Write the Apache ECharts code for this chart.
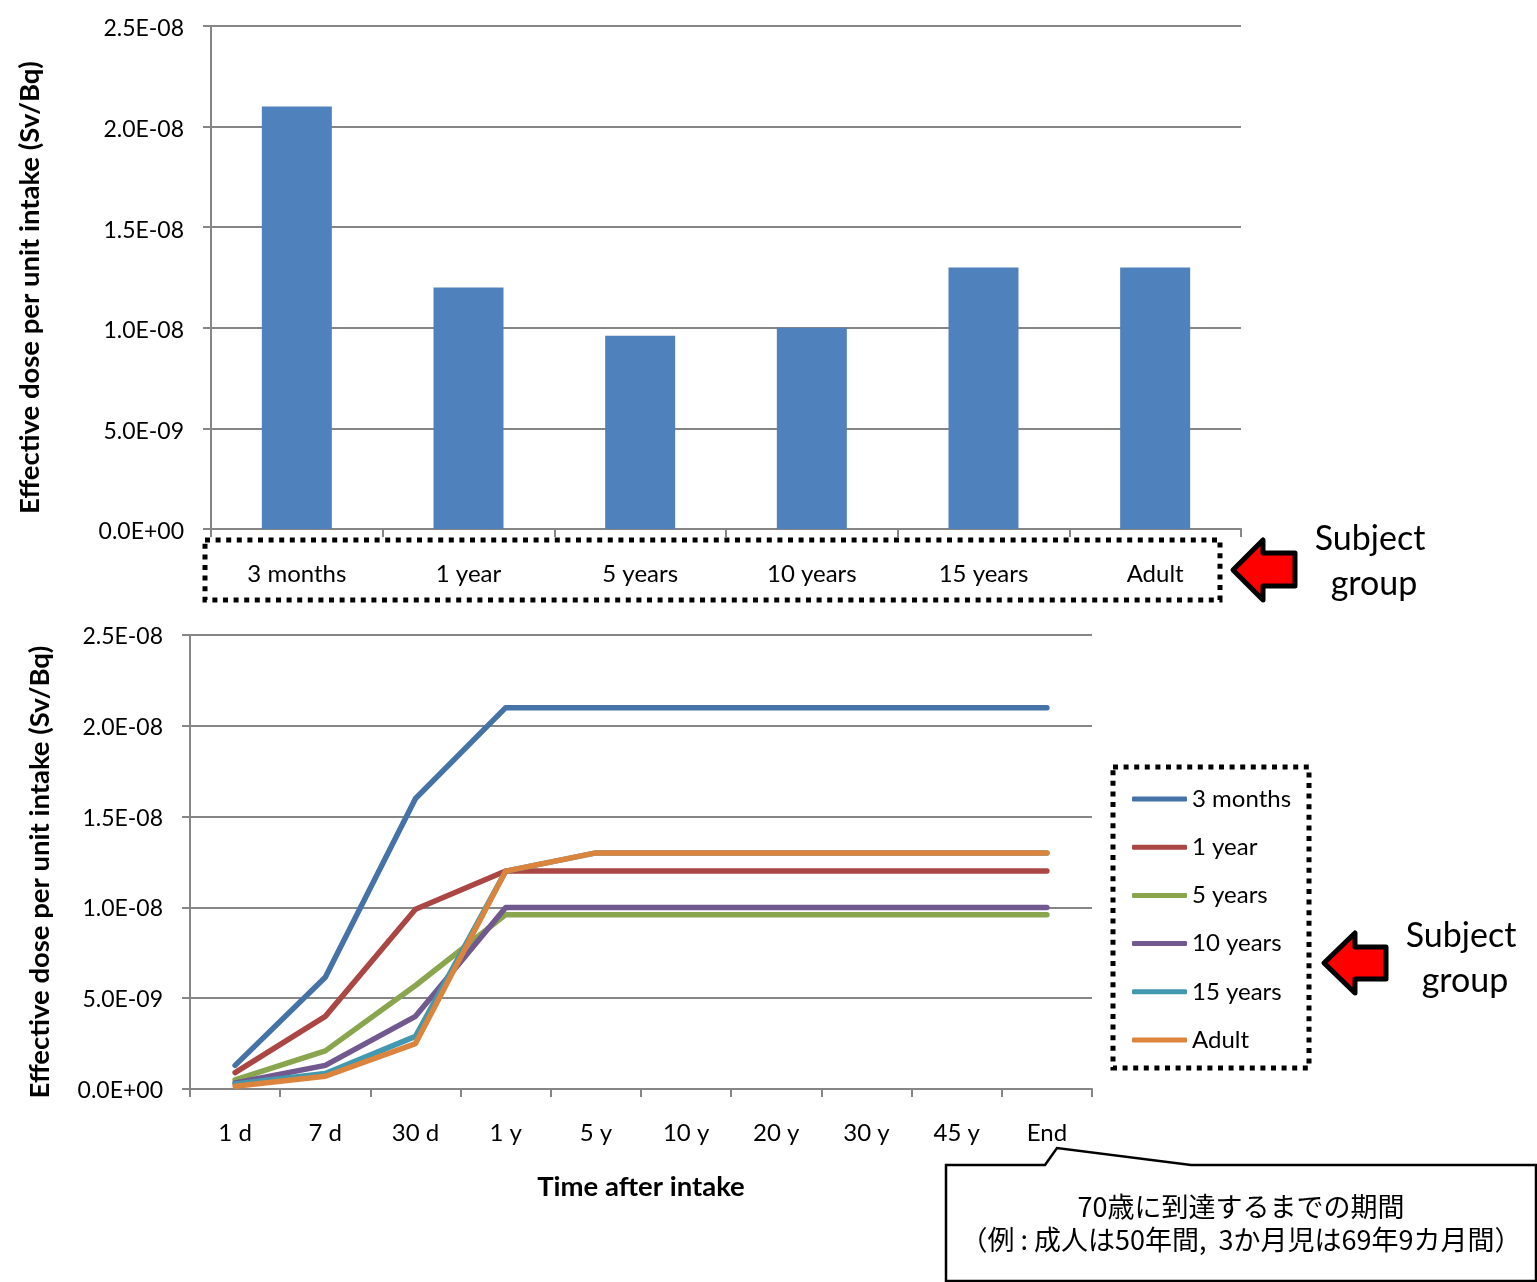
<!DOCTYPE html>
<html>
<head>
<meta charset="utf-8">
<style>html,body{margin:0;padding:0;background:#fff}#chart{width:1537px;height:1282px}</style>
<script src="https://cdn.jsdelivr.net/npm/echarts@6/dist/echarts.min.js"></script>
</head>
<body>
<div id="chart"></div>
<script>
// Committed effective dose per unit intake, by subject group and time after intake
const subjectGroups = ['3 months', '1 year', '5 years', '10 years', '15 years', 'Adult'];
const totalDose = [2.1e-8, 1.2e-8, 9.6e-9, 1.0e-8, 1.3e-8, 1.3e-8];
const timePoints = ['1 d', '7 d', '30 d', '1 y', '5 y', '10 y', '20 y', '30 y', '45 y', 'End'];
const dose3Months = [1.3e-9, 6.15e-9, 1.6e-8, 2.1e-8, 2.1e-8, 2.1e-8, 2.1e-8, 2.1e-8, 2.1e-8, 2.1e-8];
const dose1Year = [9.0e-10, 4.0e-9, 9.9e-9, 1.2e-8, 1.2e-8, 1.2e-8, 1.2e-8, 1.2e-8, 1.2e-8, 1.2e-8];
const dose5Years = [5.0e-10, 2.1e-9, 5.7e-9, 9.6e-9, 9.6e-9, 9.6e-9, 9.6e-9, 9.6e-9, 9.6e-9, 9.6e-9];
const dose10Years = [3.3e-10, 1.3e-9, 4.0e-9, 1.0e-8, 1.0e-8, 1.0e-8, 1.0e-8, 1.0e-8, 1.0e-8, 1.0e-8];
const dose15Years = [2.8e-10, 8.5e-10, 2.9e-9, 1.2e-8, 1.3e-8, 1.3e-8, 1.3e-8, 1.3e-8, 1.3e-8, 1.3e-8];
const doseAdult = [1.5e-10, 7.0e-10, 2.5e-9, 1.2e-8, 1.3e-8, 1.3e-8, 1.3e-8, 1.3e-8, 1.3e-8, 1.3e-8];
const doseByGroup = [dose3Months, dose1Year, dose5Years, dose10Years, dose15Years, doseAdult];
const lineColors = ['#4572A7', '#AA4643', '#89A54E', '#71588F', '#4198AF', '#DB843D'];
const barColor = '#4F81BD';
const axisName = 'Effective dose per unit intake (Sv/Bq)';
const timeAxisName = 'Time after intake';
const groupCaption = ['Subject', 'group'];
const noteLines = ['70歳に到達するまでの期間', '（例 : 成人は50年間,  3か月児は69年9カ月間）'];

const LATIN = 'Lato, Carlito, Calibri, sans-serif';
const CJK = '"Noto Sans CJK JP", sans-serif';
const AXIS_GREY = '#868686';
const VALUE_SIZE = 23;
const CATEGORY_SIZE = 24;
const TITLE_SIZE = 27.5;

// Spreadsheet-style scientific notation, e.g. 2.5E-08
function sci(v) {
  const [m, e] = Number(v).toExponential(1).split('e');
  const n = parseInt(e, 10);
  return m + 'E' + (n < 0 ? '-' : '+') + String(Math.abs(n)).padStart(2, '0');
}

function valueAxis(gridIndex, nameGap, labelPadding) {
  return {
    type: 'value', gridIndex, min: 0, max: 2.5e-8, interval: 5e-9,
    name: axisName, nameLocation: 'middle', nameGap, nameRotate: 90,
    nameTextStyle: { fontFamily: LATIN, fontSize: TITLE_SIZE, fontWeight: 'bold', color: '#000', padding: [0, 20, 0, 0] },
    axisLine: { show: true, lineStyle: { color: AXIS_GREY, width: 2 } },
    axisTick: { show: true, length: 8, lineStyle: { color: AXIS_GREY, width: 2 } },
    splitLine: { show: true, lineStyle: { color: AXIS_GREY, width: 2 } },
    axisLabel: {
      margin: 27,
      formatter: v => '{v|' + sci(v) + '}',
      rich: { v: { padding: labelPadding, fontFamily: LATIN, fontSize: VALUE_SIZE, color: '#000' } }
    }
  };
}

function categoryAxis(gridIndex, data, margin) {
  return {
    type: 'category', gridIndex, data, boundaryGap: true,
    axisLine: { lineStyle: { color: AXIS_GREY, width: 2 } },
    axisTick: { show: true, alignWithLabel: false, length: 8, lineStyle: { color: AXIS_GREY, width: 2 } },
    axisLabel: { interval: 0, margin, fontFamily: LATIN, fontSize: CATEGORY_SIZE, color: '#000' }
  };
}

function dottedBox(x, y, width, height) {
  return {
    type: 'rect', shape: { x, y, width, height },
    style: { fill: 'none', stroke: '#000', lineWidth: 5, lineDash: [5, 5.6] }
  };
}

function arrow(points) {
  return {
    type: 'polygon', shape: { points },
    style: { fill: '#FF0000', stroke: '#000', lineWidth: 5, lineJoin: 'round' }
  };
}

function caption(text, x, y, size, family) {
  return {
    type: 'text', x, y,
    style: { text, fontFamily: family, fontSize: size, fill: '#000', align: 'center', verticalAlign: 'middle' }
  };
}

const chart = echarts.init(document.getElementById('chart'), null, { renderer: 'canvas' });
chart.setOption({
  animation: false,
  backgroundColor: '#fff',
  grid: [
    { left: 211, top: 26, width: 1030, height: 503 },
    { left: 190, top: 635, width: 902, height: 454 }
  ],
  xAxis: [
    categoryAxis(0, subjectGroups, 33),
    Object.assign(categoryAxis(1, timePoints, 32), {
      name: timeAxisName, nameLocation: 'middle', nameGap: 84,
      nameTextStyle: { fontFamily: LATIN, fontSize: TITLE_SIZE, fontWeight: 'bold', color: '#000' }
    })
  ],
  yAxis: [valueAxis(0, 167, [6, 0, 0, 0]), valueAxis(1, 136, [3, 0, 0, 0])],
  legend: {
    orient: 'vertical', left: 1127, top: 782, itemWidth: 55, itemHeight: 5, itemGap: 24.2,
    icon: 'roundRect',
    data: subjectGroups,
    textStyle: { fontFamily: LATIN, fontSize: CATEGORY_SIZE, color: '#000' }
  },
  series: [
    {
      type: 'bar', xAxisIndex: 0, yAxisIndex: 0, data: totalDose, barWidth: 70,
      itemStyle: { color: barColor }, silent: true
    }
  ].concat(subjectGroups.map((name, i) => ({
    type: 'line', name, xAxisIndex: 1, yAxisIndex: 1, data: doseByGroup[i],
    symbol: 'none', showSymbol: false,
    lineStyle: { color: lineColors[i], width: 5.5, cap: 'round', join: 'round' },
    itemStyle: { color: lineColors[i] }
  }))),
  graphic: {
    elements: [
      dottedBox(205, 540, 1015, 60),
      dottedBox(1113, 767, 196, 301),
      arrow([[1233, 570], [1263, 540], [1263, 553], [1295, 553], [1295, 586], [1263, 586], [1263, 600]]),
      arrow([[1324, 963], [1355, 933], [1355, 947], [1386, 947], [1386, 979], [1355, 979], [1355, 993]]),
      caption(groupCaption[0], 1370, 539, 34, LATIN),
      caption(groupCaption[1], 1374, 584, 34, LATIN),
      caption(groupCaption[0], 1461, 936, 34, LATIN),
      caption(groupCaption[1], 1465, 981, 34, LATIN),
      {
        type: 'polygon',
        shape: { points: [[946, 1165], [1045, 1165], [1057, 1148], [1191, 1165], [1536, 1165], [1536, 1281], [946, 1281]] },
        style: { fill: '#fff', stroke: '#000', lineWidth: 2.5 }
      },
      caption(noteLines[0], 1241, 1207, 27, CJK),
      caption(noteLines[1], 1241, 1240, 27, CJK)
    ]
  }
});
</script>
</body>
</html>
